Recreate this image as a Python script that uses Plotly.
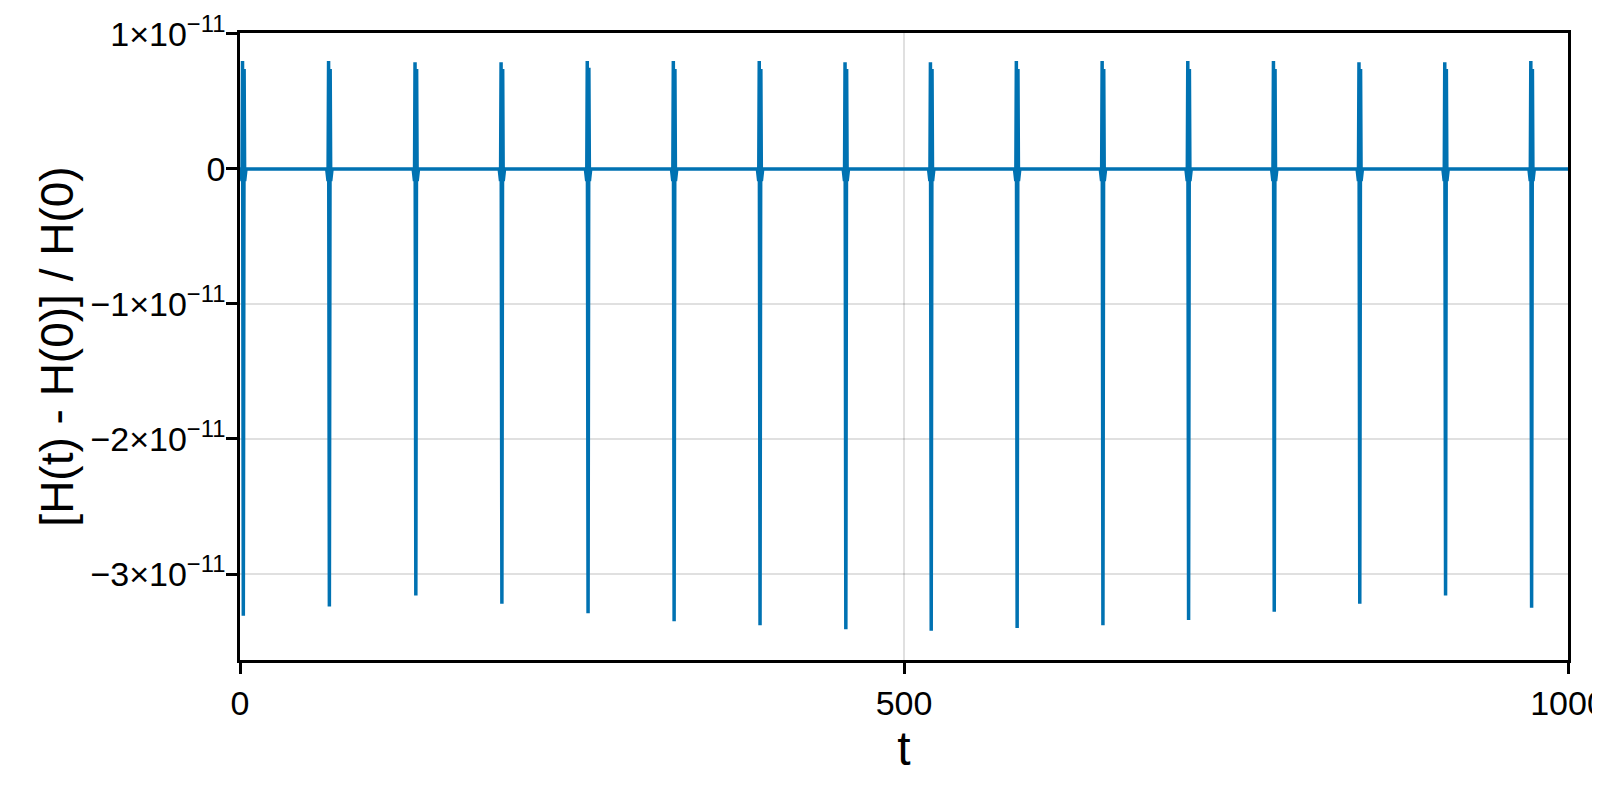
import plotly.graph_objects as go

# ---- data (values in units of 1e-11) ----
spike_t = [2.5, 67.3, 132.4, 197.2, 262.1, 326.9, 391.6, 456.2,
           520.5, 585.2, 649.8, 714.3, 778.8, 843.2, 907.8, 972.6]
spike_min = [-3.31, -3.24, -3.16, -3.22, -3.29, -3.35, -3.38, -3.41,
             -3.42, -3.40, -3.38, -3.34, -3.28, -3.22, -3.16, -3.25]
spike_max = [0.80, 0.80, 0.79, 0.79, 0.80, 0.80, 0.80, 0.79,
             0.79, 0.80, 0.80, 0.80, 0.80, 0.79, 0.79, 0.80]
spike_max2 = [0.74, 0.74, 0.74, 0.74, 0.75, 0.74, 0.74, 0.74,
              0.74, 0.74, 0.74, 0.74, 0.74, 0.74, 0.74, 0.74]
spike_dip = [-0.09] * 16
t_start, t_end = 0.0, 1000.0

y_tickvals = [1e-11, 0, -1e-11, -2e-11, -3e-11]
y_ticktext = ["1×10<sup>−11</sup>", "0", "−1×10<sup>−11</sup>",
              "−2×10<sup>−11</sup>", "−3×10<sup>−11</sup>"]
x_tickvals = [0, 500, 1000]
x_ticktext = ["0", "500", "1000"]

# time offsets of the samples within one narrow spike
profile_dt = [-2.0, -1.0, -0.6, 0.0, 0.6, 1.0, 2.0]

ts, hs = [t_start], [0.0]
for t0, mn, mx, mx2, dp in zip(spike_t, spike_min, spike_max, spike_max2, spike_dip):
    vals = [0.0, dp, mx, mn, mx2, dp, 0.0]
    for dt, v in zip(profile_dt, vals):
        ts.append(t0 + dt)
        hs.append(v * 1e-11)
ts.append(t_end)
hs.append(0.0)

FONT = "Liberation Sans, Arial, Helvetica, sans-serif"

fig = go.Figure()
fig.add_trace(go.Scatter(x=ts, y=hs, mode="lines",
                         line=dict(color="#0072B2", width=3.5),
                         showlegend=False, hoverinfo="skip"))

# the page body has an 8px margin, so the figure is 8px smaller and offset
fig.update_layout(
    width=1592, height=792,
    margin=dict(l=232, r=32, t=25, b=140),
    paper_bgcolor="white", plot_bgcolor="white",
    font=dict(family=FONT, color="black", size=34),
)
fig.update_xaxes(
    range=[0, 1000], tickvals=x_tickvals, ticktext=x_ticktext,
    showgrid=True, gridcolor="rgba(0,0,0,0.12)", gridwidth=2,
    zeroline=False, showline=True, linecolor="black", linewidth=2.5, mirror=True,
    ticks="outside", ticklen=11, tickwidth=2.5, tickcolor="black",
    tickfont=dict(size=34, family=FONT), ticklabeloverflow="allow",
    title=dict(text="t", font=dict(size=48, family=FONT), standoff=4),
    automargin=False,
)
fig.update_yaxes(
    range=[-3.637e-11, 1.007e-11], tickvals=y_tickvals, ticktext=y_ticktext,
    showgrid=True, gridcolor="rgba(0,0,0,0.12)", gridwidth=2,
    zeroline=False, showline=True, linecolor="black", linewidth=2.5, mirror=True,
    ticks="outside", ticklen=11, tickwidth=2.5, tickcolor="black",
    tickfont=dict(size=34, family=FONT), ticklabelstandoff=-6,
    title=dict(text="[H(t) - H(0)] / H(0)", font=dict(size=46, family=FONT), standoff=3),
    automargin=False,
)

fig.write_html("out.html")
